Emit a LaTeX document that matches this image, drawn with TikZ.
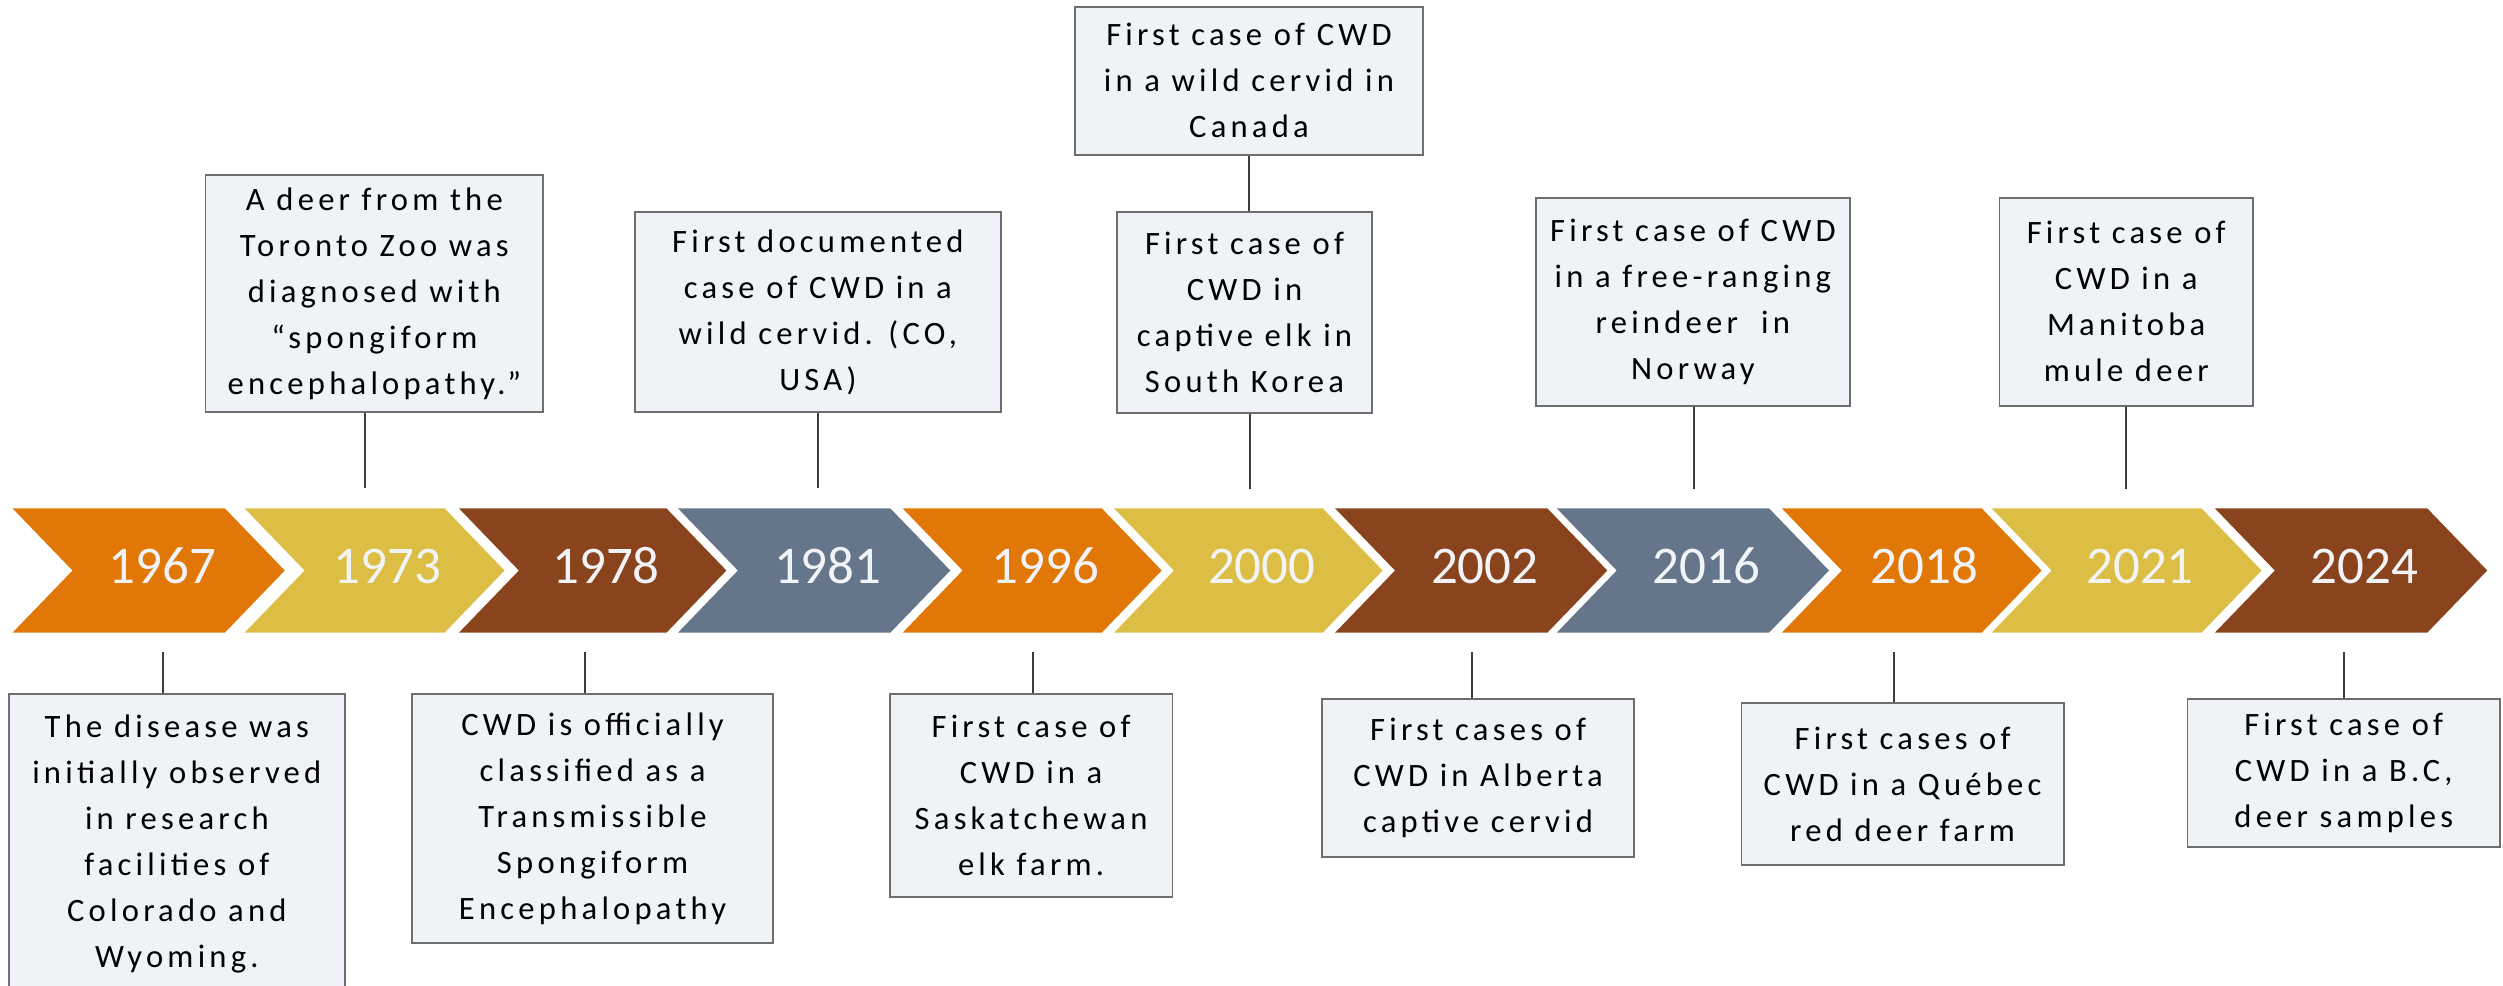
\documentclass[tikz,border=0pt]{standalone}
\usepackage{fontspec}
\setmainfont{Carlito}
\newfontfamily\boxfont{Carlito}[LetterSpace=13]
\newfontfamily\yearfont{Carlito}

\definecolor{cwdorange}{RGB}{224,119,6}
\definecolor{cwdyellow}{RGB}{219,190,67}
\definecolor{cwdbrown}{RGB}{137,67,29}
\definecolor{cwdslate}{RGB}{102,118,138}
\definecolor{boxfill}{RGB}{239,242,247}
\definecolor{boxline}{RGB}{110,110,110}
\definecolor{linkcol}{RGB}{60,60,60}
\definecolor{yeartext}{RGB}{242,243,247}

\tikzset{
  yearlabel/.style={text=yeartext, font=\yearfont\fontsize{26.5pt}{30pt}\selectfont, inner sep=0pt},
  infobox/.style={draw=boxline, fill=boxfill, line width=0.9pt, inner sep=0pt, align=center,
    text=black, font=\boxfont\fontsize{16.3pt}{23pt}\selectfont},
  link/.style={draw=linkcol, line width=1pt}
}

% chevron: name, left x, tip x, colour, year
\newcommand\chevshape[5]{%
  \fill[#4] (#2,508.3) -- (#3-60,508.3) -- (#3,570.5) -- (#3-60,632.7)
    -- (#2,632.7) -- (#2+60,570.5) -- cycle;
  \node[yearlabel] (#1) at ({#2+0.55*(#3-#2)},566) {#5};
}
% event box: name, left, right, top, bottom, text
\newcommand\eventbox[6]{%
  \node[infobox, minimum width={(#3-#2)*0.5pt}, minimum height={(#5-#4)*0.5pt}]
    (#1) at ({(#2+#3)/2},{(#4+#5)/2}) {#6};
}

\begin{document}
\begin{tikzpicture}[x=0.5pt, y=-0.5pt]
\useasboundingbox (0,0) rectangle (2503,985);
\clip (0,0) rectangle (2503,985);

% timeline band
\chevshape{y1967}{12.5}{284.8}{cwdorange}{1967}
\chevshape{y1973}{244.6}{504.5}{cwdyellow}{1973}
\chevshape{y1978}{458.9}{726.4}{cwdbrown}{1978}
\chevshape{y1981}{677.9}{950.3}{cwdslate}{1981}
\chevshape{y1996}{902.6}{1161.7}{cwdorange}{1996}
\chevshape{y2000}{1114}{1382.6}{cwdyellow}{2000}
\chevshape{y2002}{1335}{1607.3}{cwdbrown}{2002}
\chevshape{y2016}{1556.7}{1829}{cwdslate}{2016}
\chevshape{y2018}{1781.8}{2041.6}{cwdorange}{2018}
\chevshape{y2021}{1991.6}{2261.5}{cwdyellow}{2021}
\chevshape{y2024}{2214.8}{2487.2}{cwdbrown}{2024}

% events above the band
\eventbox{b1973}{205.4}{543.3}{175}{412.3}{A deer from the\\Toronto Zoo was\\diagnosed with\\“spongiform\\encephalopathy.”}
\eventbox{b1981}{635}{1000.7}{212.3}{412.3}{First documented\\case of CWD in a\\wild cervid. (CO,\\USA)}
\eventbox{bCan}{1075}{1423}{6.7}{155}{First case of CWD\\in a wild cervid in\\Canada}
\eventbox{bKor}{1116.7}{1372.3}{211.7}{412.7}{First case of\\CWD in\\captive elk in\\South Korea}
\eventbox{b2016}{1535.7}{1850}{197.7}{406}{First case of CWD\\in a free-ranging\\reindeer\ \ in\\Norway}
\eventbox{b2021}{1999.4}{2253}{197.7}{405.7}{First case of\\CWD in a\\Manitoba\\mule deer}

% events below the band
\eventbox{b1967}{8.7}{345}{694.3}{993}{The disease was\\initially observed\\in research\\facilities of\\Colorado and\\Wyoming.}
\eventbox{b1978}{412.2}{773}{694.3}{943.3}{CWD is officially\\classified as a\\Transmissible\\Spongiform\\Encephalopathy}
\eventbox{b1996}{889.6}{1172.5}{694.3}{896.7}{First case of\\CWD in a\\Saskatchewan\\elk farm.}
\eventbox{b2002}{1322.2}{1633.9}{698.7}{856.7}{First cases of\\CWD in Alberta\\captive cervid}
\eventbox{b2018}{1741.5}{2063.6}{703.3}{865.3}{First cases of\\CWD in a Québec\\red deer farm}
\eventbox{b2024}{2187.5}{2499.9}{699}{847.3}{First case of\\CWD in a B.C,\\deer samples}

% connector ends near the band
\coordinate (e1973) at (364.7,488.3);
\coordinate (e1981) at (818,488.3);
\coordinate (e2000) at (1250,489);
\coordinate (e2016) at (1694,489);
\coordinate (e2021) at (2126,489);
\coordinate (e1967) at (163.3,652.3);
\coordinate (e1978) at (585.2,652.3);
\coordinate (e1996) at (1033.2,652.3);
\coordinate (e2002) at (1471.8,652.3);
\coordinate (e2018) at (1893.6,652.3);
\coordinate (e2024) at (2343.7,652.3);

% connectors
\draw[link] (b1973.south -| e1973) -- (e1973);
\draw[link] (b1981.south -| e1981) -- (e1981);
\draw[link] (bCan.south) -- (bCan.south |- bKor.north);
\draw[link] (bKor.south -| e2000) -- (e2000);
\draw[link] (b2016.south -| e2016) -- (e2016);
\draw[link] (b2021.south -| e2021) -- (e2021);
\draw[link] (e1967) -- (e1967 |- b1967.north);
\draw[link] (e1978) -- (e1978 |- b1978.north);
\draw[link] (e1996) -- (e1996 |- b1996.north);
\draw[link] (e2002) -- (e2002 |- b2002.north);
\draw[link] (e2018) -- (e2018 |- b2018.north);
\draw[link] (e2024) -- (e2024 |- b2024.north);
\end{tikzpicture}
\end{document}
